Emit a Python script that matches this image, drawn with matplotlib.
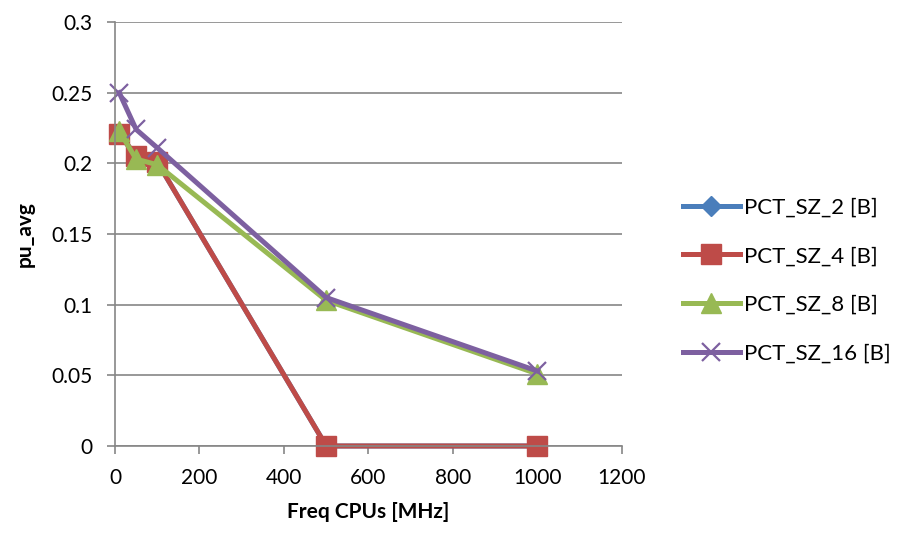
import matplotlib.pyplot as plt

freq = [10, 50, 100, 500, 1000]
sz2 = [0.221, 0.205, 0.201, 0.0, 0.0]
sz4 = [0.221, 0.205, 0.201, 0.0, 0.0]
sz8 = [0.223, 0.203, 0.199, 0.103, 0.051]
sz16 = [0.250, 0.224, 0.211, 0.105, 0.053]

plt.rcParams['font.family'] = ['Lato', 'DejaVu Sans']

fig = plt.figure(figsize=(9.04, 5.34), dpi=100)
ax = fig.add_axes([115 / 904, 1 - 446 / 534, 507 / 904, 424 / 534])

ax.plot(freq, sz2, color='#4a7ebb', marker='D', markersize=10, lw=3.6, clip_on=False, label='PCT_SZ_2 [B]')
ax.plot(freq, sz4, color='#be4b48', marker='s', markersize=14, lw=3.6, clip_on=False, label='PCT_SZ_4 [B]')
ax.plot(freq, sz8, color='#98b954', marker='^', markersize=15, lw=3.6, clip_on=False, label='PCT_SZ_8 [B]')
ax.plot(freq, sz16, color='#7d60a0', marker='x', markersize=13, mew=1.6, lw=3.6, clip_on=False, label='PCT_SZ_16 [B]')

ax.set_xlim(0, 1200)
ax.set_ylim(0, 0.3)
ax.set_xticks(range(0, 1201, 200))
ax.set_yticks([0, 0.05, 0.1, 0.15, 0.2, 0.25, 0.3])
ax.set_yticklabels(['0', '0.05', '0.1', '0.15', '0.2', '0.25', '0.3'])
ax.grid(axis='y', color='#868686', lw=1.2)
ax.set_axisbelow(True)
for s in ['top', 'right']:
    ax.spines[s].set_visible(False)
for s in ['left', 'bottom']:
    ax.spines[s].set_color('#868686')
    ax.spines[s].set_linewidth(1.2)
ax.tick_params(colors='#868686', labelcolor='black', labelsize=15, length=6, width=1.2, pad=10)

ax.set_xlabel('Freq CPUs [MHz]', fontsize=15, fontweight='bold', labelpad=10)
ax.set_ylabel('pu_avg', fontsize=15, fontweight='bold', labelpad=12)

ax.legend(loc='center left', bbox_to_anchor=(1.08, 0.39), frameon=False,
          fontsize=16, handlelength=2.6, labelspacing=1.3, handletextpad=0.15)

fig.savefig('out.png', dpi=100)
